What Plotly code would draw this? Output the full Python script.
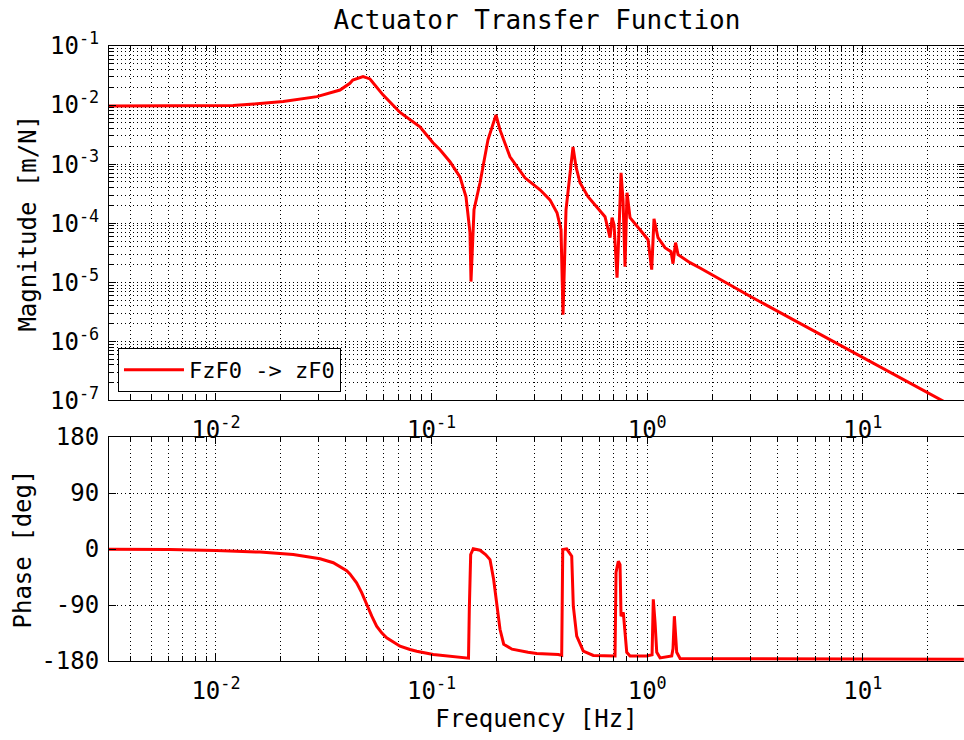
import plotly.graph_objects as go

# Measured actuator transfer function FzF0 -> zF0
mag_freq = [0.00319, 0.0120, 0.0150, 0.0205, 0.0294, 0.0350, 0.0376, 0.0418, 0.0431,
            0.0481, 0.0518, 0.0595, 0.0714, 0.0883, 0.1015, 0.1094, 0.1217, 0.1354,
            0.1444, 0.1507, 0.1523, 0.1573, 0.1677, 0.1826, 0.1989, 0.2076, 0.2310,
            0.2711, 0.3183, 0.3540, 0.3816, 0.3983, 0.4069, 0.4201, 0.4385, 0.4527,
            0.4675, 0.4880, 0.5314, 0.5728, 0.6372, 0.6723, 0.6867, 0.7015, 0.7245,
            0.7400, 0.7560, 0.7723, 0.7889, 0.8059, 0.8322, 0.9259, 1.0086, 1.049,
            1.075, 1.122, 1.209, 1.290, 1.317, 1.353, 1.390, 1.579, 1.758, 2.998,
            9.99, 23.2, 29.4]
mag_value = [0.00968, 0.00986, 0.0104, 0.01146, 0.0139, 0.0169, 0.0180, 0.0234, 0.0266,
             0.0303, 0.0277, 0.0149, 0.0075, 0.00428, 0.0023, 0.00175, 1.10e-3, 6.11e-4,
             2.81e-4, 6.9e-5, 1.03e-5, 1.69e-4, 4.84e-4, 2.58e-3, 6.82e-3, 3.80e-3, 1.33e-3,
             5.87e-4, 3.68e-4, 2.49e-4, 1.51e-4, 7.76e-5, 2.84e-6, 1.69e-4, 6.11e-4, 1.96e-3,
             9.0e-4, 4.84e-4, 2.81e-4, 2.06e-4, 1.29e-4, 5.69e-5, 1.24e-4, 9.4e-5, 1.2e-5,
             7.76e-5, 7.14e-4, 2.49e-4, 1.84e-5, 3.28e-4, 1.24e-4, 7.76e-5, 5.26e-5, 1.64e-5,
             1.19e-4, 5.69e-5, 3.85e-5, 3.30e-5, 2.07e-5, 4.69e-5, 2.94e-5, 2.15e-5, 1.75e-5,
             5.8e-6, 5.33e-7, 1.02e-7, 6.3e-8]

phase_freq = [0.00319, 0.00612, 0.0100, 0.0160, 0.02283, 0.0304, 0.0350, 0.0376, 0.0404,
              0.0418, 0.0449, 0.0474, 0.0500, 0.0528, 0.0556, 0.0587, 0.0619, 0.0714,
              0.0794, 0.0853, 0.1018, 0.1175, 0.1403, 0.1483, 0.1496, 0.1518, 0.1560,
              0.1677, 0.1780, 0.1866, 0.1940, 0.2004, 0.2076, 0.2160, 0.2360, 0.2800,
              0.3073, 0.3871, 0.4012, 0.4057, 0.4233, 0.4465, 0.4542, 0.4710, 0.5052,
              0.5623, 0.6966, 0.7091, 0.7165, 0.7344, 0.7479, 0.7560, 0.7745, 0.7889,
              0.8035, 0.8322, 0.9945, 1.053, 1.067, 1.087, 1.107, 1.147, 1.299, 1.317,
              1.336, 1.370, 1.420, 29.4]
phase_value = [-0.5, -0.8, -2.5, -5, -9, -15.7, -22, -28, -35,
               -40, -54.3, -70, -89.2, -108, -124, -134.7, -142.7, -156.2,
               -161.5, -164.2, -169.5, -172, -174.8, -175.5, -97, -8.8, 0.3,
               -2, -9, -17, -49, -86, -129, -153, -161, -166,
               -168, -169.5, -171, -0.8, 0.3, -11.5, -92, -140, -164,
               -171, -171, -172, -37.7, -19.6, -25, -108, -102, -140,
               -166, -172, -172, -170, -81, -118, -166, -175, -172, -160,
               -108, -166, -176, -177]

x_range = [-2.496, 1.469]
freq_ticks = [0.01, 0.1, 1, 10]
freq_labels = ["10<sup>-2</sup>", "10<sup>-1</sup>", "10<sup>0</sup>", "10<sup>1</sup>"]
mag_ticks = [1e-7, 1e-6, 1e-5, 1e-4, 1e-3, 1e-2, 1e-1]
mag_labels = ["10<sup>-7</sup>", "10<sup>-6</sup>", "10<sup>-5</sup>", "10<sup>-4</sup>",
              "10<sup>-3</sup>", "10<sup>-2</sup>", "10<sup>-1</sup>"]
phase_ticks = [-180, -90, 0, 90, 180]
phase_labels = ["-180", "-90", "0", "90", "180"]

FONT = "DejaVu Sans Mono, monospace"
RED = "#ff0000"
GRID_DASH = "1px,3px"
TICK_FONT = dict(family=FONT, size=24, color="black")

grid_style = dict(showgrid=True, gridcolor="black", gridwidth=1, griddash=GRID_DASH)
frame_style = dict(showline=True, linecolor="black", linewidth=1, mirror="allticks",
                   ticks="inside", ticklen=7, tickcolor="black", zeroline=False)
minor_style = dict(dtick="D1", ticks="inside", ticklen=5, tickcolor="black", **grid_style)

fig = go.Figure()
fig.add_trace(go.Scatter(x=mag_freq, y=mag_value, mode="lines", name="FzF0 -> zF0",
                         line=dict(color=RED, width=3), xaxis="x", yaxis="y"))
fig.add_trace(go.Scatter(x=phase_freq, y=phase_value, mode="lines", showlegend=False,
                         line=dict(color=RED, width=3), xaxis="x2", yaxis="y2"))

freq_axis = dict(type="log", range=x_range, tickmode="array", tickvals=freq_ticks,
                 ticktext=freq_labels, tickfont=TICK_FONT, ticklabelstandoff=8,
                 minor=minor_style, **grid_style, **frame_style)

fig.update_layout(
    width=964, height=740,
    paper_bgcolor="white", plot_bgcolor="white",
    margin=dict(l=109, r=0, t=46, b=79),
    font=dict(family=FONT, color="black"),
    title=dict(text="Actuator Transfer Function", x=0.557, xanchor="center",
               y=0.973, yanchor="middle", font=dict(family=FONT, size=26, color="black")),
    xaxis=dict(domain=[0, 1], anchor="y", **freq_axis),
    xaxis2=dict(domain=[0, 1], anchor="y2",
                title=dict(text="Frequency [Hz]", font=dict(family=FONT, size=24), standoff=6),
                **freq_axis),
    yaxis=dict(domain=[0.4236, 1], anchor="x", type="log", range=[-7, -1],
               tickmode="array", tickvals=mag_ticks, ticktext=mag_labels,
               tickfont=TICK_FONT, ticklabelstandoff=4, minor=minor_style,
               title=dict(text="Magnitude [m/N]", font=dict(family=FONT, size=24), standoff=6),
               **grid_style, **frame_style),
    yaxis2=dict(domain=[0, 0.3642], anchor="x2", range=[-180, 180],
                tickmode="array", tickvals=phase_ticks, ticktext=phase_labels,
                tickfont=TICK_FONT, ticklabelstandoff=4,
                title=dict(text="Phase [deg]", font=dict(family=FONT, size=24), standoff=2),
                **grid_style, **frame_style),
    legend=dict(x=0.0105, y=0.4374, xanchor="left", yanchor="bottom",
                bgcolor="white", bordercolor="black", borderwidth=1, itemwidth=60,
                font=dict(family=FONT, size=22, color="black")),
)

fig.write_html("out.html")
